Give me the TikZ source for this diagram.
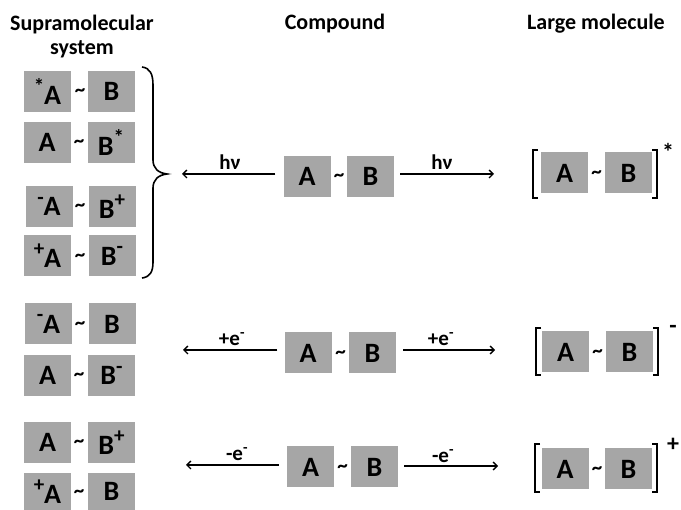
\documentclass[tikz,border=0pt]{standalone}
\usepackage{fontspec}
\setmainfont{Carlito}
\usetikzlibrary{arrows.meta}
\definecolor{boxgray}{RGB}{166,166,166}
% raised charge / excitation marks inside the boxes
\newcommand\upmark[1]{\raisebox{0.42em}{\fontsize{21}{21}\selectfont #1}}
\begin{document}
\begin{tikzpicture}[x=1pt,y=-1pt,
  unit/.style={fill=boxgray,minimum width=47pt,minimum height=41pt,inner sep=0pt,
    font=\fontsize{28}{30}\selectfont\bfseries},
  tilde/.style={inner sep=0pt,font=\fontsize{21}{24}\selectfont\bfseries},
  head/.style={font=\fontsize{22}{24}\selectfont\bfseries,align=center},
  lab/.style={font=\fontsize{21}{24}\selectfont\bfseries,inner sep=0pt},
  conn/.style={line width=1.3pt,-{Straight Barb[length=4pt,width=8pt]}},
  bracket/.style={line width=1.6pt},
  charge/.style={font=\fontsize{24}{26}\selectfont\bfseries,inner sep=0pt}]
\useasboundingbox (0,0) rectangle (681,510);

% column headings
\node[head] (h1) at (82,37) {Supramolecular\\system};
\node[head] (h2) at (335,24) {Compound};
\node[head] (h3) at (596,24) {Large molecule};

% supramolecular systems (left column)
\node[unit] (s1a) at (47.5,91.5) {\upmark{*}A};
\node[tilde] (s1t) at (80,93) {\textasciitilde};
\node[unit] (s1b) at (111.5,91.5) {B};

\node[unit] (s2a) at (47,142.5) {A};
\node[tilde] (s2t) at (79,144) {\textasciitilde};
\node[unit] (s2b) at (111,142.5) {B\upmark{*}};

\node[unit] (s3a) at (49,206.5) {\upmark{-}A};
\node[tilde] (s3t) at (80,208) {\textasciitilde};
\node[unit] (s3b) at (112,206.5) {B\upmark{+}};

\node[unit] (s4a) at (47.5,256) {\upmark{+}A};
\node[tilde] (s4t) at (80,258) {\textasciitilde};
\node[unit] (s4b) at (112,256) {B\upmark{-}};

\node[unit] (s5a) at (48.5,324) {\upmark{-}A};
\node[tilde] (s5t) at (80,326) {\textasciitilde};
\node[unit] (s5b) at (112,324) {B};

\node[unit] (s6a) at (47.5,375.5) {A};
\node[tilde] (s6t) at (79,377) {\textasciitilde};
\node[unit] (s6b) at (111.5,375.5) {B\upmark{-}};

\node[unit] (s7a) at (47.5,442.5) {A};
\node[tilde] (s7t) at (79,444) {\textasciitilde};
\node[unit] (s7b) at (111.5,442.5) {B\upmark{+}};

% last pair sits on the lower edge, so its boxes are shorter
\node[unit,minimum height=37pt] (s8a) at (47.5,491.5) {\upmark{+}A};
\node[tilde] (s8t) at (79,494) {\textasciitilde};
\node[unit,minimum height=37pt] (s8b) at (111.5,491.5) {B};

% curly brace grouping the photo-excited systems
\coordinate (brtip) at (167,174);
\draw[bracket] (142,67) .. controls (150,68) and (153,74) .. (153,85)
  -- (153,160) .. controls (153,168) and (158,173) .. (brtip)
  .. controls (158,175) and (153,180) .. (153,188)
  -- (153,262) .. controls (153,272) and (150,277) .. (142,278);

% compounds (middle column)
\node[unit] (c1a) at (307,176.5) {A};
\node[tilde] (c1t) at (339,178) {\textasciitilde};
\node[unit] (c1b) at (370.5,176.5) {B};

\node[unit] (c2a) at (308,353) {A};
\node[tilde] (c2t) at (340.5,354.5) {\textasciitilde};
\node[unit] (c2b) at (372.5,353) {B};

\node[unit] (c3a) at (310.5,467) {A};
\node[tilde] (c3t) at (342.5,468.5) {\textasciitilde};
\node[unit] (c3b) at (374.5,467) {B};

% large molecules (right column)
\node[unit] (m1a) at (564.5,173) {A};
\node[tilde] (m1t) at (596.5,174.5) {\textasciitilde};
\node[unit] (m1b) at (628.5,173) {B};
\draw[bracket] (538,150) -- (533,150) -- (533,198) -- (538,198);
\draw[bracket] (652,150) -- (657,150) -- (657,198) -- (652,198);
\node[charge] (m1c) at (668,152) {*};

\node[unit] (m2a) at (565.5,352) {A};
\node[tilde] (m2t) at (597.5,353.5) {\textasciitilde};
\node[unit] (m2b) at (629.5,352) {B};
\draw[bracket] (541,328) -- (536,328) -- (536,375) -- (541,375);
\draw[bracket] (653,328) -- (658,328) -- (658,375) -- (653,375);
\node[charge] (m2c) at (673,329) {-};

\node[unit] (m3a) at (565,469) {A};
\node[tilde] (m3t) at (597,470.5) {\textasciitilde};
\node[unit] (m3b) at (628.5,469) {B};
\draw[bracket] (540,444) -- (535,444) -- (535,492) -- (540,492);
\draw[bracket] (652,444) -- (657,444) -- (657,492) -- (652,492);
\node[charge] (m3c) at (673,445) {+};

% arrow end points
\coordinate (l1) at (182,174);
\coordinate (r1) at (494,174);
\coordinate (l2) at (183,350);
\coordinate (r2) at (495,350);
\coordinate (l3) at (186,465);
\coordinate (r3) at (498,466);

% photo-excitation
\draw[conn,shorten <=8pt] (c1a.west |- l1) -- (l1);
\draw[conn,shorten <=6pt] (c1b.east |- r1) -- (r1);
\node[lab] (hv1) at (230,162) {hν};
\node[lab] (hv2) at (442,162) {hν};

% reduction
\draw[conn,shorten <=7pt] (c2a.west |- l2) -- (l2);
\draw[conn,shorten <=7pt] (c2b.east |- r2) -- (r2);
\node[lab] (red1) at (232,339) {+e\textsuperscript{-}};
\node[lab] (red2) at (441,339) {+e\textsuperscript{-}};

% oxidation
\draw[conn,shorten <=8pt] (c3a.west |- l3) -- (l3);
\draw[conn,shorten <=6pt] (c3b.east |- r3) -- (r3);
\node[lab] (ox1) at (237,454) {-e\textsuperscript{-}};
\node[lab] (ox2) at (443,456) {-e\textsuperscript{-}};
\end{tikzpicture}
\end{document}
